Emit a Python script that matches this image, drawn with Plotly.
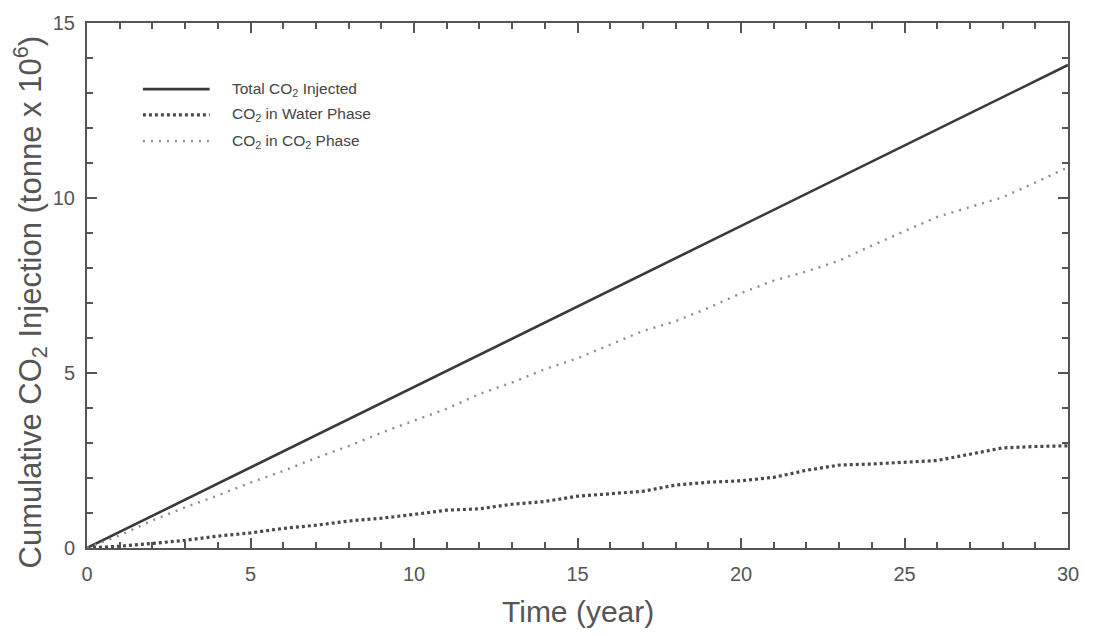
import plotly.graph_objects as go

# Simulation output, sampled yearly (cumulative mass, tonne x 10^6)
years = list(range(0, 31))
total_injected = [0.00, 0.46, 0.92, 1.38, 1.84, 2.30, 2.76, 3.22, 3.68, 4.14,
                  4.60, 5.06, 5.52, 5.98, 6.44, 6.90, 7.36, 7.82, 8.28, 8.74,
                  9.20, 9.66, 10.12, 10.58, 11.04, 11.50, 11.96, 12.42, 12.88, 13.34,
                  13.80]
water_phase = [0.00, 0.05, 0.13, 0.22, 0.34, 0.43, 0.56, 0.65, 0.77, 0.85,
               0.96, 1.08, 1.12, 1.25, 1.33, 1.48, 1.55, 1.62, 1.80, 1.88,
               1.92, 2.02, 2.22, 2.37, 2.40, 2.44, 2.50, 2.68, 2.86, 2.90,
               2.92]
co2_phase = [0.00, 0.36, 0.79, 1.16, 1.50, 1.87, 2.20, 2.57, 2.91, 3.29,
             3.64, 3.98, 4.40, 4.73, 5.11, 5.42, 5.81, 6.20, 6.48, 6.86,
             7.28, 7.64, 7.90, 8.21, 8.64, 9.06, 9.46, 9.74, 10.02, 10.44,
             10.88]

legend_labels = ["Total CO<sub>2</sub> Injected",
                 "CO<sub>2</sub> in Water Phase",
                 "CO<sub>2</sub> in CO<sub>2</sub> Phase"]

x_title = "Time (year)"
y_title = "Cumulative CO<sub>2</sub> Injection (tonne x 10<sup>6</sup>)"

styles = [
    dict(color="#3a3a3a", width=2.6, dash="solid"),
    dict(color="#4a4a4a", width=3.2, dash="3px,3px"),
    dict(color="#8c8c8c", width=2.4, dash="2px,6px"),
]

fig = go.Figure()
for ys, st, name in zip([total_injected, water_phase, co2_phase], styles, legend_labels):
    fig.add_trace(go.Scatter(x=years, y=ys, mode="lines", line=st, name=name,
                             showlegend=False))

# Legend block in the upper-left of the plot area
legend_rows = [0.874, 0.825, 0.775]
for lab, st, yy in zip(legend_labels, styles, legend_rows):
    fig.add_shape(type="line", xref="paper", yref="paper",
                  x0=0.057, x1=0.125, y0=yy, y1=yy, line=st)
    fig.add_annotation(xref="paper", yref="paper", x=0.146, y=yy,
                       text=lab, showarrow=False, xanchor="left", yanchor="middle",
                       font=dict(size=15.5, color="#444"))

# Axis titles
fig.add_annotation(xref="paper", yref="paper", x=0.5, y=-0.12, text=x_title,
                   showarrow=False, xanchor="center", yanchor="middle",
                   font=dict(size=30, color="#555"))
fig.add_annotation(xref="paper", yref="paper", x=-0.058, y=0.468, text=y_title,
                   textangle=-90, showarrow=False, xanchor="center", yanchor="middle",
                   font=dict(size=31, color="#555"))

axis_common = dict(
    showline=True, linecolor="#555", linewidth=2, mirror="ticks",
    ticks="inside", ticklen=10, tickwidth=2, tickcolor="#555",
    showgrid=False, zeroline=False,
    tickfont=dict(size=20, color="#555"),
)

fig.update_xaxes(range=[0, 30], tickvals=[0, 5, 10, 15, 20, 25, 30],
                 ticklabelstandoff=7,
                 minor=dict(dtick=1, ticks="inside", ticklen=6, tickwidth=1.5,
                            tickcolor="#555", showgrid=False),
                 **axis_common)
fig.update_yaxes(range=[0, 15], tickvals=[0, 5, 10, 15],
                 ticklabelstandoff=6,
                 minor=dict(dtick=1, ticks="inside", ticklen=6, tickwidth=1.5,
                            tickcolor="#555", showgrid=False),
                 **axis_common)

fig.update_layout(
    width=1099, height=636,
    margin=dict(l=87, r=31, t=14, b=88),
    paper_bgcolor="white", plot_bgcolor="white",
    font=dict(family="Liberation Sans, Arial, sans-serif", color="#555"),
)

fig.write_html("out.html")
